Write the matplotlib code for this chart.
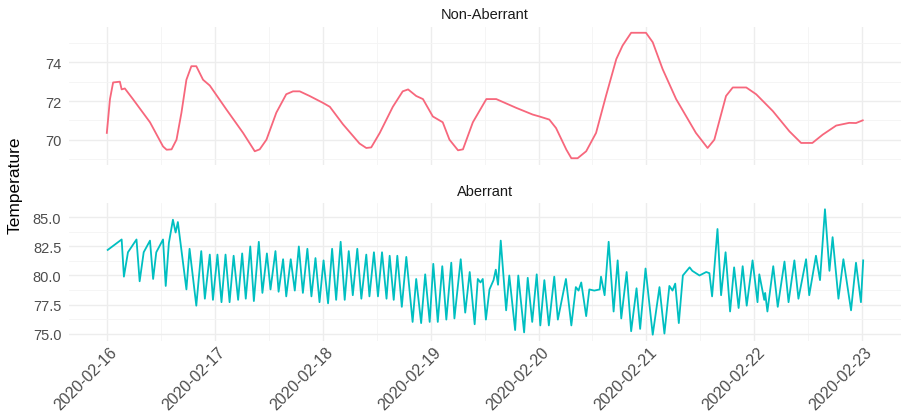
import numpy as np
import matplotlib.pyplot as plt
import matplotlib.dates as mdates
from matplotlib.ticker import FixedLocator, FormatStrFormatter
from matplotlib.transforms import ScaledTranslation

plt.rcParams['font.family'] = ['Liberation Sans', 'DejaVu Sans']

start = np.datetime64('2020-02-16T00:00')

# hours after midnight 2020-02-16, temperature readings
normal_hours = [0.0, 0.7, 1.4, 2.9, 3.3, 4.0, 5.8, 9.6, 12.5, 13.3, 14.4, 15.5,
                16.6, 17.7, 18.8, 19.9, 21.4, 22.9, 26.6, 30.3, 32.9, 34.0, 35.5,
                37.7, 39.9, 41.4, 42.9, 45.1, 48.1, 49.6, 52.5, 56.2, 57.7, 58.8,
                60.7, 63.6, 65.8, 67.0, 68.8, 70.3, 72.5, 74.7, 76.2, 78.1, 79.2,
                81.4, 84.4, 86.6, 91.0, 94.7, 96.2, 98.4, 99.9, 102.2, 103.3,
                104.7, 106.6, 108.8, 111.0, 113.3, 114.7, 116.6, 119.9, 121.4,
                123.6, 126.6, 131.0, 133.6, 135.1, 137.7, 139.2, 142.2, 144.4,
                148.1, 151.8, 154.4, 156.9, 159.2, 162.2, 165.1, 166.6, 168.1]
normal_temp = [70.35, 72.1, 72.96, 73.0, 72.6, 72.65, 72.1, 70.9, 69.65, 69.48,
               69.5, 70.0, 71.4, 73.1, 73.8, 73.8, 73.1, 72.8, 71.56, 70.35, 69.4,
               69.5, 70.0, 71.4, 72.35, 72.5, 72.5, 72.26, 71.9, 71.7, 70.8, 69.8,
               69.57, 69.6, 70.35, 71.7, 72.5, 72.6, 72.26, 72.1, 71.2, 70.9, 70.0,
               69.45, 69.5, 70.9, 72.1, 72.1, 71.65, 71.3, 71.2, 71.04, 70.6, 69.48,
               69.04, 69.04, 69.4, 70.35, 72.26, 74.17, 74.87, 75.53, 75.53, 75.04,
               73.65, 72.1, 70.35, 69.57, 70.0, 72.26, 72.7, 72.7, 72.35, 71.48,
               70.43, 69.83, 69.83, 70.26, 70.73, 70.87, 70.86, 71.0]

aberrant_hours = [0.2, 3.3, 3.8, 4.7, 6.6, 7.3, 8.2, 9.6, 10.3, 11.0, 12.5, 13.1,
                  13.8, 14.7, 15.3, 15.8, 17.7, 18.4, 19.9, 21.0, 21.8, 22.9, 23.6,
                  24.6, 25.5, 26.4, 27.3, 28.2, 29.2, 30.1, 30.9, 31.9, 32.7, 33.8,
                  34.6, 35.6, 36.4, 37.5, 38.2, 39.2, 39.9, 40.9, 41.8, 42.7, 43.6,
                  44.6, 45.5, 46.4, 47.3, 48.2, 49.2, 50.1, 51.0, 52.0, 52.9, 53.8,
                  54.7, 55.7, 56.6, 57.7, 58.4, 59.4, 60.3, 61.2, 62.2, 62.9, 63.8,
                  64.6, 65.6, 66.6, 68.0, 68.8, 69.9, 70.8, 71.8, 72.6, 73.6, 74.6,
                  75.5, 76.6, 77.3, 78.7, 79.7, 80.7, 81.8, 82.5, 83.1, 83.6, 84.3,
                  85.1, 86.0, 86.5, 87.0, 87.6, 88.8, 89.5, 90.8, 91.5, 92.8, 93.6,
                  94.6, 95.6, 96.4, 97.3, 98.3, 99.5, 100.3, 102.1, 103.3, 104.3,
                  104.9, 105.5, 106.6, 107.3, 108.4, 109.6, 109.9, 110.7, 111.6,
                  112.7, 113.6, 114.4, 115.6, 116.6, 117.8, 118.6, 119.8, 121.4,
                  122.9, 124.0, 125.1, 125.8, 126.4, 127.2, 128.1, 129.6, 130.2,
                  131.8, 133.3, 134.0, 134.6, 135.8, 136.6, 137.6, 138.6, 139.5,
                  140.5, 141.4, 142.3, 143.6, 144.7, 145.1, 146.2, 146.4, 146.9,
                  148.2, 149.2, 150.7, 151.6, 152.9, 153.8, 155.5, 156.2, 157.7,
                  158.6, 159.7, 160.7, 161.4, 162.7, 163.8, 165.5, 166.6, 167.7,
                  168.2]
aberrant_temp = [82.2, 83.1, 79.9, 82.0, 83.1, 79.5, 82.0, 83.0, 79.7, 82.0, 83.1,
                 79.1, 82.8, 84.8, 83.7, 84.6, 78.8, 82.3, 77.4, 82.1, 78.0, 81.8,
                 77.9, 81.8, 77.7, 81.8, 77.7, 81.7, 77.9, 81.9, 78.0, 82.5, 77.8,
                 82.9, 78.5, 81.9, 78.8, 82.1, 78.6, 81.4, 78.2, 81.4, 78.7, 82.5,
                 78.5, 82.3, 78.2, 81.5, 77.7, 81.3, 77.6, 82.3, 77.9, 82.9, 77.9,
                 82.1, 78.3, 82.3, 78.0, 81.8, 78.2, 82.0, 78.2, 82.0, 78.0, 81.7,
                 77.9, 81.7, 77.3, 81.6, 76.0, 79.7, 75.9, 80.1, 76.0, 81.0, 76.0,
                 80.8, 76.2, 81.1, 76.3, 81.4, 76.8, 80.3, 75.8, 79.7, 79.4, 79.7,
                 76.2, 78.8, 79.6, 80.5, 79.2, 83.0, 77.0, 80.0, 75.3, 80.0, 75.1,
                 79.8, 76.0, 80.1, 75.7, 79.6, 75.7, 79.9, 76.2, 79.7, 75.7, 79.0,
                 78.7, 79.4, 76.5, 78.8, 78.7, 78.8, 79.9, 78.3, 82.9, 76.9, 81.3,
                 76.3, 80.3, 75.2, 78.9, 75.4, 80.6, 74.9, 79.0, 75.0, 79.1, 78.7,
                 79.3, 75.9, 80.0, 80.7, 80.4, 80.0, 80.3, 80.2, 78.2, 84.0, 78.3,
                 82.0, 76.9, 80.7, 77.2, 80.8, 77.4, 81.3, 77.7, 80.1, 77.9, 78.5,
                 76.9, 80.8, 77.3, 81.2, 77.7, 81.3, 78.0, 81.4, 78.3, 81.7, 79.6,
                 85.7, 80.4, 83.3, 78.0, 81.4, 77.0, 81.1, 77.7, 81.3]

normal_ticks = [70, 72, 74]
normal_minor = [69, 71, 73, 75]
aberrant_ticks = [75.0, 77.5, 80.0, 82.5, 85.0]
aberrant_minor = [76.25, 78.75, 81.25, 83.75]
day_ticks = np.arange('2020-02-16', '2020-02-24', dtype='datetime64[D]')


def to_time(hours):
    mins = np.round(np.array(hours) * 60).astype(int)
    return start + mins.astype('timedelta64[m]')


fig = plt.figure(figsize=(9.03, 4.14), dpi=100)
W, H = 903, 414
ax_top = fig.add_axes([69 / W, 1 - 165.5 / H, 832 / W, 138 / H])
ax_bot = fig.add_axes([69 / W, 1 - 342 / H, 832 / W, 138 / H], sharex=ax_top)

ax_top.plot(to_time(normal_hours), normal_temp, color='#F7677C', lw=1.3)
ax_bot.plot(to_time(aberrant_hours), aberrant_temp, color='#00BFC1', lw=1.3)

day_nums = mdates.date2num(day_ticks.astype('datetime64[m]'))
half_days = day_nums[:-1] + 0.5

for ax, title, major, minor in [(ax_top, 'Non-Aberrant', normal_ticks, normal_minor),
                                 (ax_bot, 'Aberrant', aberrant_ticks, aberrant_minor)]:
    ax.margins(x=0.05, y=0.05)
    for s in ax.spines.values():
        s.set_visible(False)
    ax.yaxis.set_major_locator(FixedLocator(major))
    ax.yaxis.set_minor_locator(FixedLocator(minor))
    ax.xaxis.set_major_locator(FixedLocator(day_nums))
    ax.xaxis.set_minor_locator(FixedLocator(half_days))
    ax.grid(which='major', color='#EDEDED', lw=1.0)
    ax.grid(which='minor', color='#F4F4F4', lw=0.6)
    ax.set_axisbelow(True)
    ax.tick_params(which='both', length=0)
    ax.tick_params(axis='y', labelsize=10.5, labelcolor='#4D4D4D', pad=5.5)
    ax.set_title(title, fontsize=10.5, color='#1A1A1A', pad=6)

ax_bot.yaxis.set_major_formatter(FormatStrFormatter('%.1f'))
ax_bot.xaxis.set_major_formatter(mdates.DateFormatter('%Y-%m-%d'))
ax_top.tick_params(axis='x', labelbottom=False)
ax_bot.tick_params(axis='x', labelsize=11.5, labelcolor='#4D4D4D', pad=2)

shift = ScaledTranslation(0.13, 0, fig.dpi_scale_trans)
for lab in ax_bot.get_xticklabels():
    lab.set_rotation(45)
    lab.set_ha('right')
    lab.set_va('top')
    lab.set_transform(lab.get_transform() + shift)

fig.text(15 / W, 1 - 185 / H, 'Temperature', rotation=90, fontsize=12.5,
         ha='center', va='center', color='black')

fig.savefig('out.png', dpi=100)
